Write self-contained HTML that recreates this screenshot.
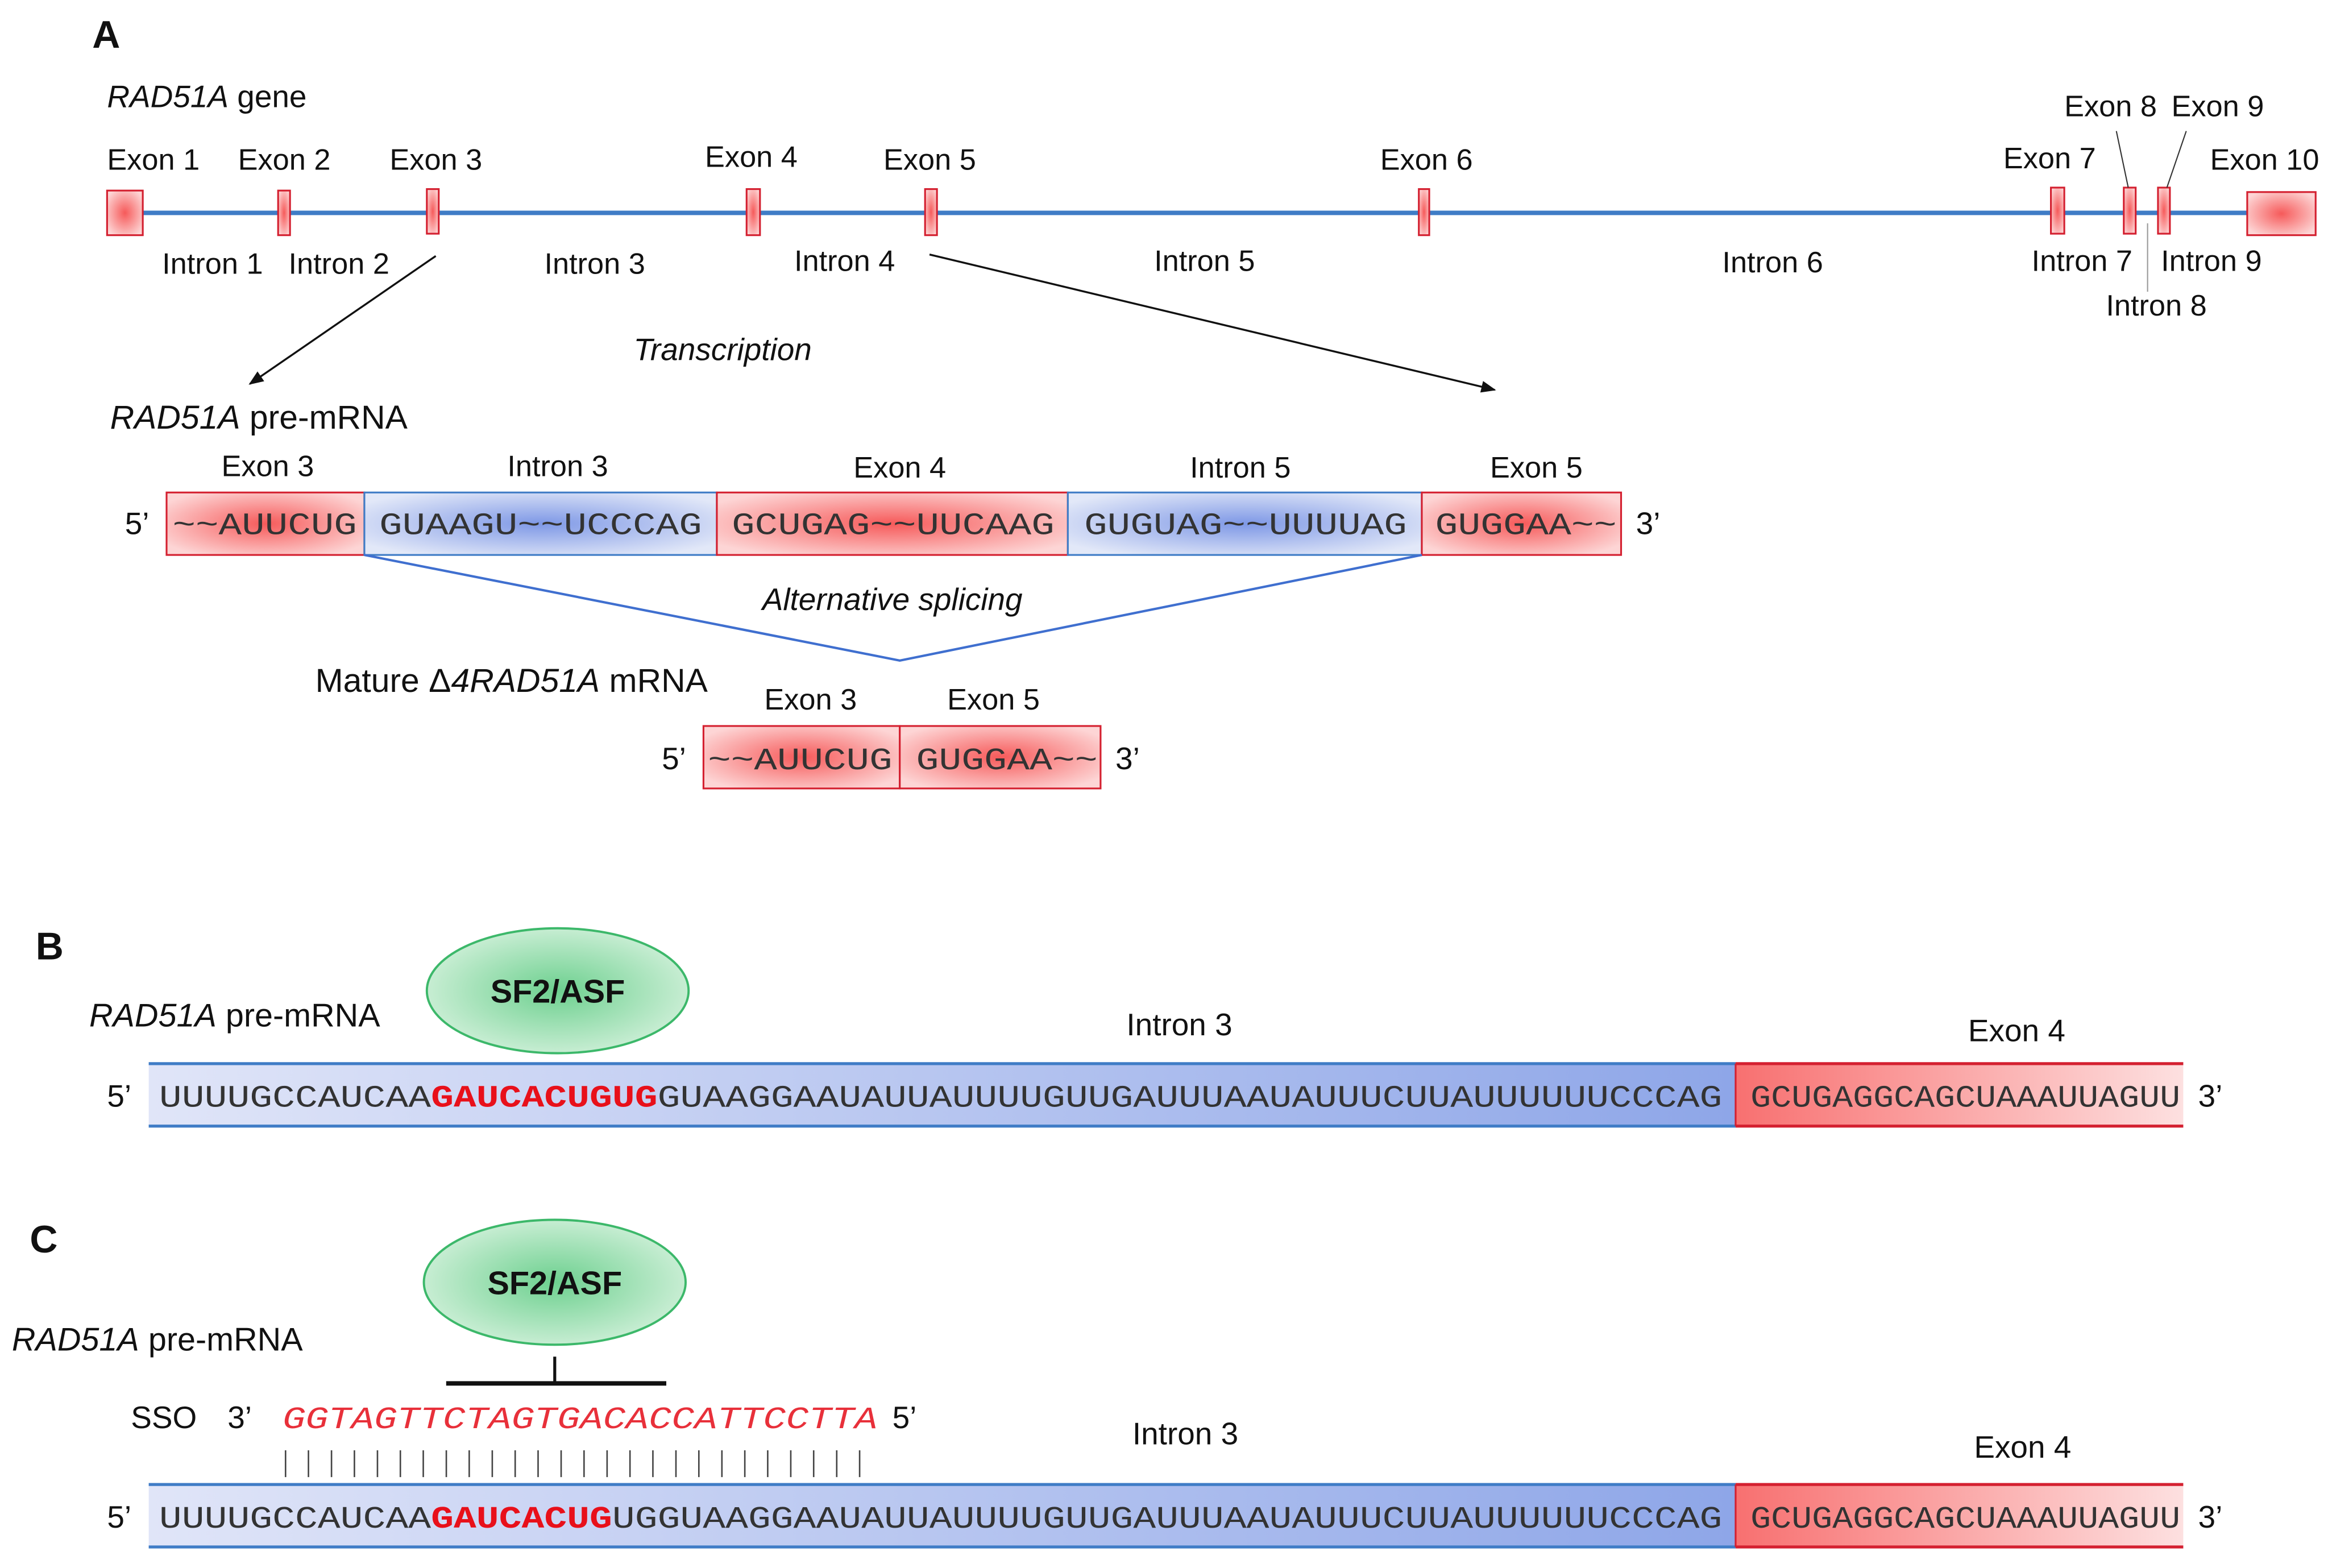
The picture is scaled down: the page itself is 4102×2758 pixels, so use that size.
<!DOCTYPE html>
<html><head><meta charset="utf-8"><style>html,body{margin:0;padding:0;background:#fff}svg{display:block}</style></head>
<body>
<svg xmlns="http://www.w3.org/2000/svg" width="4102" height="2758" viewBox="0 0 1568 1054" font-family="Liberation Sans, Arial, sans-serif">
<defs>
<radialGradient id="rg" cx="50%" cy="50%" r="60%"><stop offset="0" stop-color="#f65a5a"/><stop offset="1" stop-color="#fdd5d5"/></radialGradient>
<radialGradient id="bg" cx="50%" cy="50%" r="60%"><stop offset="0" stop-color="#7e98e6"/><stop offset="1" stop-color="#e2e8f8"/></radialGradient>
<radialGradient id="gg" cx="50%" cy="50%" r="60%"><stop offset="0" stop-color="#6dd08f"/><stop offset="1" stop-color="#d9f3e0"/></radialGradient>
<linearGradient id="lb" x1="0" x2="1"><stop offset="0" stop-color="#e0e5f8"/><stop offset="1" stop-color="#8ea6e8"/></linearGradient>
<linearGradient id="lr" x1="0" x2="1"><stop offset="0" stop-color="#f87070"/><stop offset="1" stop-color="#fde0e0"/></linearGradient>
<marker id="ar" markerWidth="10" markerHeight="8" refX="9" refY="4" orient="auto" markerUnits="userSpaceOnUse"><path d="M0,0 L10,4 L0,8 z" fill="#111"/></marker>
</defs>
<g font-size="20" fill="#111">
<text x="62" y="32" font-size="26" font-weight="bold">A</text>
<text x="72" y="72" font-size="21"><tspan font-style="italic">RAD51A</tspan> gene</text>
<line x1="72" y1="143" x2="1530" y2="143" stroke="#3f7cc6" stroke-width="3"/>
<g fill="url(#rg)" stroke="#d42030" stroke-width="1.2">
<rect x="72" y="128" width="24" height="30"/>
<rect x="187" y="128" width="8" height="30"/>
<rect x="287" y="127" width="8" height="30"/>
<rect x="502" y="127" width="9" height="31"/>
<rect x="622" y="127" width="8" height="31"/>
<rect x="954" y="127" width="7" height="31"/>
<rect x="1379" y="126" width="9" height="31"/>
<rect x="1428" y="126" width="8" height="31"/>
<rect x="1451" y="126" width="8" height="31"/>
<rect x="1511" y="129" width="46" height="29"/>
</g>
<text x="72" y="114">Exon 1</text><text x="160" y="114">Exon 2</text><text x="262" y="114">Exon 3</text>
<text x="474" y="112">Exon 4</text><text x="594" y="114">Exon 5</text><text x="928" y="114">Exon 6</text>
<text x="1347" y="113">Exon 7</text><text x="1388" y="78">Exon 8</text><text x="1460" y="78">Exon 9</text><text x="1486" y="114">Exon 10</text>
<text x="109" y="184">Intron 1</text><text x="194" y="184">Intron 2</text><text x="366" y="184">Intron 3</text>
<text x="534" y="182">Intron 4</text><text x="776" y="182">Intron 5</text><text x="1158" y="183">Intron 6</text>
<text x="1366" y="182">Intron 7</text><text x="1453" y="182">Intron 9</text><text x="1416" y="212">Intron 8</text>
<line x1="1423" y1="88" x2="1431" y2="126" stroke="#333" stroke-width="0.8"/>
<line x1="1470" y1="88" x2="1457" y2="126" stroke="#333" stroke-width="0.8"/>
<line x1="1444" y1="150" x2="1444" y2="196" stroke="#999" stroke-width="0.8"/>
<line x1="293" y1="172" x2="168" y2="258" stroke="#111" stroke-width="1.3" marker-end="url(#ar)"/>
<line x1="625" y1="171" x2="1005" y2="262" stroke="#111" stroke-width="1.3" marker-end="url(#ar)"/>
<text x="426" y="242" font-size="21" font-style="italic">Transcription</text>
<text x="74" y="288" font-size="22.5"><tspan font-style="italic">RAD51A</tspan> pre-mRNA</text>
<text x="180" y="320" text-anchor="middle">Exon 3</text><text x="375" y="320" text-anchor="middle">Intron 3</text>
<text x="605" y="321" text-anchor="middle">Exon 4</text><text x="834" y="321" text-anchor="middle">Intron 5</text><text x="1033" y="321" text-anchor="middle">Exon 5</text>
<rect x="112" y="331" width="133" height="42" fill="url(#rg)" stroke="#d42030" stroke-width="1.2"/>
<rect x="245" y="331" width="237" height="42" fill="url(#bg)" stroke="#3f7cc6" stroke-width="1.2"/>
<rect x="482" y="331" width="236" height="42" fill="url(#rg)" stroke="#d42030" stroke-width="1.2"/>
<rect x="718" y="331" width="238" height="42" fill="url(#bg)" stroke="#3f7cc6" stroke-width="1.2"/>
<rect x="956" y="331" width="134" height="42" fill="url(#rg)" stroke="#d42030" stroke-width="1.2"/>
<rect x="473" y="488" width="132" height="42" fill="url(#rg)" stroke="#d42030" stroke-width="1.2"/>
<rect x="605" y="488" width="135" height="42" fill="url(#rg)" stroke="#d42030" stroke-width="1.2"/>
<g font-family="Liberation Mono, monospace" font-size="21" fill="#333">
<text x="116" y="359" textLength="124" lengthAdjust="spacingAndGlyphs">~~AUUCUG</text>
<text x="255" y="359" textLength="217" lengthAdjust="spacingAndGlyphs">GUAAGU~~UCCCAG</text>
<text x="492" y="359" textLength="217" lengthAdjust="spacingAndGlyphs">GCUGAG~~UUCAAG</text>
<text x="729" y="359" textLength="217" lengthAdjust="spacingAndGlyphs">GUGUAG~~UUUUAG</text>
<text x="965" y="359" textLength="122" lengthAdjust="spacingAndGlyphs">GUGGAA~~</text>
<text x="476" y="517" textLength="124" lengthAdjust="spacingAndGlyphs">~~AUUCUG</text>
<text x="616" y="517" textLength="122" lengthAdjust="spacingAndGlyphs">GUGGAA~~</text>
</g>
<text x="84" y="359" font-size="21">5’</text><text x="1100" y="359" font-size="21">3’</text>
<polyline points="245,373 605,444 956,373" fill="none" stroke="#3f6fcf" stroke-width="1.6"/>
<text x="600" y="410" font-size="21" font-style="italic" text-anchor="middle">Alternative splicing</text>
<text x="212" y="465" font-size="22.5">Mature Δ<tspan font-style="italic">4RAD51A</tspan> mRNA</text>
<text x="545" y="477" text-anchor="middle">Exon 3</text><text x="668" y="477" text-anchor="middle">Exon 5</text>
<text x="445" y="517" font-size="21">5’</text><text x="750" y="517" font-size="21">3’</text>

<text x="24" y="645" font-size="26" font-weight="bold">B</text>
<ellipse cx="375" cy="666" rx="88" ry="42" fill="url(#gg)" stroke="#3cb86a" stroke-width="1.5"/>
<text x="375" y="674" font-size="22" font-weight="bold" text-anchor="middle">SF2/ASF</text>
<text x="60" y="690" font-size="22"><tspan font-style="italic">RAD51A</tspan> pre-mRNA</text>
<text x="793" y="696" font-size="21" text-anchor="middle">Intron 3</text><text x="1356" y="700" font-size="21" text-anchor="middle">Exon 4</text>
<rect x="100" y="715" width="1067" height="42" fill="url(#lb)"/>
<rect x="1167" y="715" width="301" height="42" fill="url(#lr)"/>
<line x1="100" y1="715" x2="1167" y2="715" stroke="#3f7cc6" stroke-width="2"/><line x1="100" y1="757" x2="1167" y2="757" stroke="#3f7cc6" stroke-width="2"/>
<line x1="1167" y1="715" x2="1468" y2="715" stroke="#d42030" stroke-width="2"/><line x1="1167" y1="757" x2="1468" y2="757" stroke="#d42030" stroke-width="2"/>
<line x1="1167" y1="715" x2="1167" y2="757" stroke="#d42030" stroke-width="1.2"/>
<text x="72" y="744" font-size="21">5’</text><text x="1478" y="744" font-size="21">3’</text>
<text x="107" y="744" font-family="Liberation Mono, monospace" font-size="21" fill="#333" textLength="1051" lengthAdjust="spacingAndGlyphs">UUUUGCCAUCAA<tspan fill="#e8101a" font-weight="bold">GAUCACUGUG</tspan>GUAAGGAAUAUUAUUUUGUUGAUUUAAUAUUUCUUAUUUUUUCCCAG</text>
<text x="1177" y="744" font-family="Liberation Mono, monospace" font-size="21" fill="#333" textLength="289" lengthAdjust="spacingAndGlyphs">GCUGAGGCAGCUAAAUUAGUU</text>

<text x="20" y="842" font-size="26" font-weight="bold">C</text>
<ellipse cx="373" cy="862" rx="88" ry="42" fill="url(#gg)" stroke="#3cb86a" stroke-width="1.5"/>
<text x="373" y="870" font-size="22" font-weight="bold" text-anchor="middle">SF2/ASF</text>
<text x="8" y="908" font-size="22"><tspan font-style="italic">RAD51A</tspan> pre-mRNA</text>
<line x1="373" y1="912" x2="373" y2="930" stroke="#111" stroke-width="2"/>
<line x1="300" y1="930" x2="448" y2="930" stroke="#111" stroke-width="3"/>
<text x="88" y="960" font-size="21">SSO</text><text x="153" y="960" font-size="21">3’</text><text x="600" y="960" font-size="21">5’</text>
<text x="190" y="960" font-family="Liberation Mono, monospace" font-size="21" font-style="italic" fill="#e8303a" textLength="400" lengthAdjust="spacingAndGlyphs">GGTAGTTCTAGTGACACCATTCCTTA</text>
<path d="M192 975v18M207.4 975v18M222.9 975v18M238.3 975v18M253.8 975v18M269.2 975v18M284.6 975v18M300.1 975v18M315.5 975v18M331 975v18M346.4 975v18M361.8 975v18M377.3 975v18M392.7 975v18M408.2 975v18M423.6 975v18M439 975v18M454.5 975v18M469.9 975v18M485.4 975v18M500.8 975v18M516.2 975v18M531.7 975v18M547.1 975v18M562.6 975v18M578 975v18" stroke="#444" stroke-width="1"/>
<text x="797" y="971" font-size="21" text-anchor="middle">Intron 3</text><text x="1360" y="980" font-size="21" text-anchor="middle">Exon 4</text>
<rect x="100" y="998" width="1067" height="42" fill="url(#lb)"/>
<rect x="1167" y="998" width="301" height="42" fill="url(#lr)"/>
<line x1="100" y1="998" x2="1167" y2="998" stroke="#3f7cc6" stroke-width="2"/><line x1="100" y1="1040" x2="1167" y2="1040" stroke="#3f7cc6" stroke-width="2"/>
<line x1="1167" y1="998" x2="1468" y2="998" stroke="#d42030" stroke-width="2"/><line x1="1167" y1="1040" x2="1468" y2="1040" stroke="#d42030" stroke-width="2"/>
<line x1="1167" y1="998" x2="1167" y2="1040" stroke="#d42030" stroke-width="1.2"/>
<text x="72" y="1027" font-size="21">5’</text><text x="1478" y="1027" font-size="21">3’</text>
<text x="107" y="1027" font-family="Liberation Mono, monospace" font-size="21" fill="#333" textLength="1051" lengthAdjust="spacingAndGlyphs">UUUUGCCAUCAA<tspan fill="#e8101a" font-weight="bold">GAUCACUG</tspan>UGGUAAGGAAUAUUAUUUUGUUGAUUUAAUAUUUCUUAUUUUUUCCCAG</text>
<text x="1177" y="1027" font-family="Liberation Mono, monospace" font-size="21" fill="#333" textLength="289" lengthAdjust="spacingAndGlyphs">GCUGAGGCAGCUAAAUUAGUU</text>
</g>
</svg>
</body></html>
